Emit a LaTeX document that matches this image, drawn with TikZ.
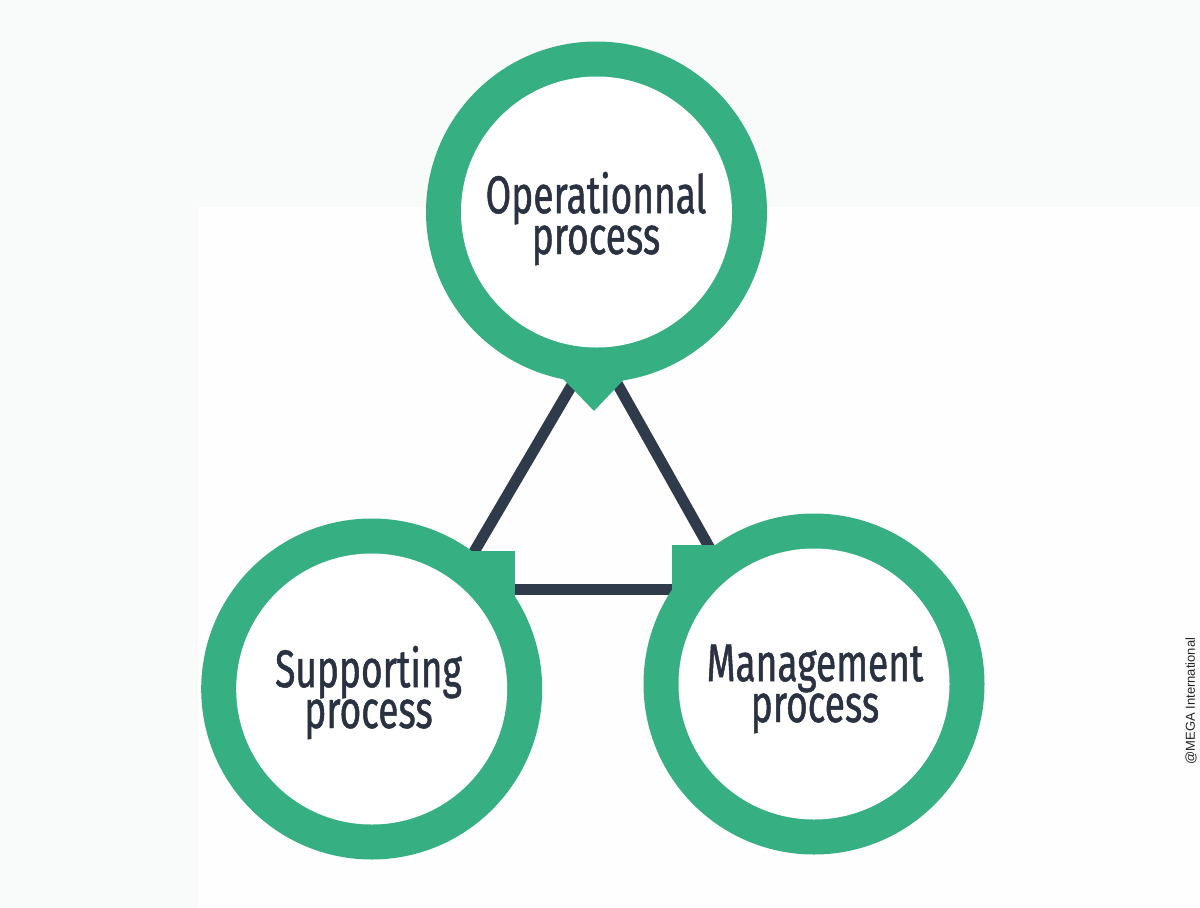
\documentclass[tikz,border=0pt]{standalone}
\usepackage{fontspec}
\newfontfamily\lblfont[FakeStretch=0.7,FakeBold=0.9]{Fira Sans}
\newfontfamily\smallfont{Liberation Sans}
\definecolor{bggray}{HTML}{F9FAFA}
\definecolor{bgwhite}{HTML}{FEFEFE}
\definecolor{ringgreen}{HTML}{36B082}
\definecolor{navy}{HTML}{2F3A4B}
\definecolor{txt}{HTML}{2A3140}
\tikzset{
  outerdisc/.style={circle, fill=ringgreen, minimum size=341pt, inner sep=0pt},
  innerdisc/.style={circle, fill=white, minimum size=271pt, inner sep=0pt},
  pointer/.style={fill=ringgreen},
  link/.style={draw=navy, line width=11pt},
  lbl/.style={font=\lblfont\fontsize{53}{39}\selectfont, text=txt, align=center, anchor=base, inner sep=0pt},
  credit/.style={font=\smallfont\fontsize{13}{15}\selectfont, text=black!85, rotate=90, inner sep=0pt}
}
\begin{document}
\begin{tikzpicture}[x=1pt,y=-1pt]
\useasboundingbox (0,0) rectangle (1200,908);
\fill[bggray] (0,0) rectangle (1200,908);
\fill[bgwhite] (198,207) rectangle (1200,908);
% triangle connectors (behind circles)
\coordinate (tA) at (595.5,345);
\coordinate (tB) at (452,589.5);
\coordinate (tC) at (733,589.5);
\draw[link] (tA) -- (tB);
\draw[link] (tA) -- (tC);
\draw[link] (tB) -- (tC);
% top circle
\node[outerdisc] (op) at (596.5,212) {};
\fill[pointer] (556.5,372) -- (631,372) -- (594,411) -- cycle;
\node[innerdisc] (opin) at (op.center) {};
% bottom-left circle
\node[outerdisc] (sup) at (371.7,689) {};
\fill[pointer] (460,551) rectangle (515,620);
\node[innerdisc] (supin) at (sup.center) {};
% bottom-right circle
\node[outerdisc] (man) at (814,684) {};
\fill[pointer] (672.3,545) rectangle (727,614);
\node[innerdisc] (manin) at (man.center) {};
% labels (anchor at baseline of the last line)
\node[lbl] (oplbl) at (596,254) {Operationnal\\process};
\node[lbl] (suplbl) at (368.5,728) {Supporting\\process};
\node[lbl] (manlbl) at (815,722) {Management\\process};
\node[credit] (cr) at (1191,701) {@MEGA International};
\end{tikzpicture}
\end{document}
